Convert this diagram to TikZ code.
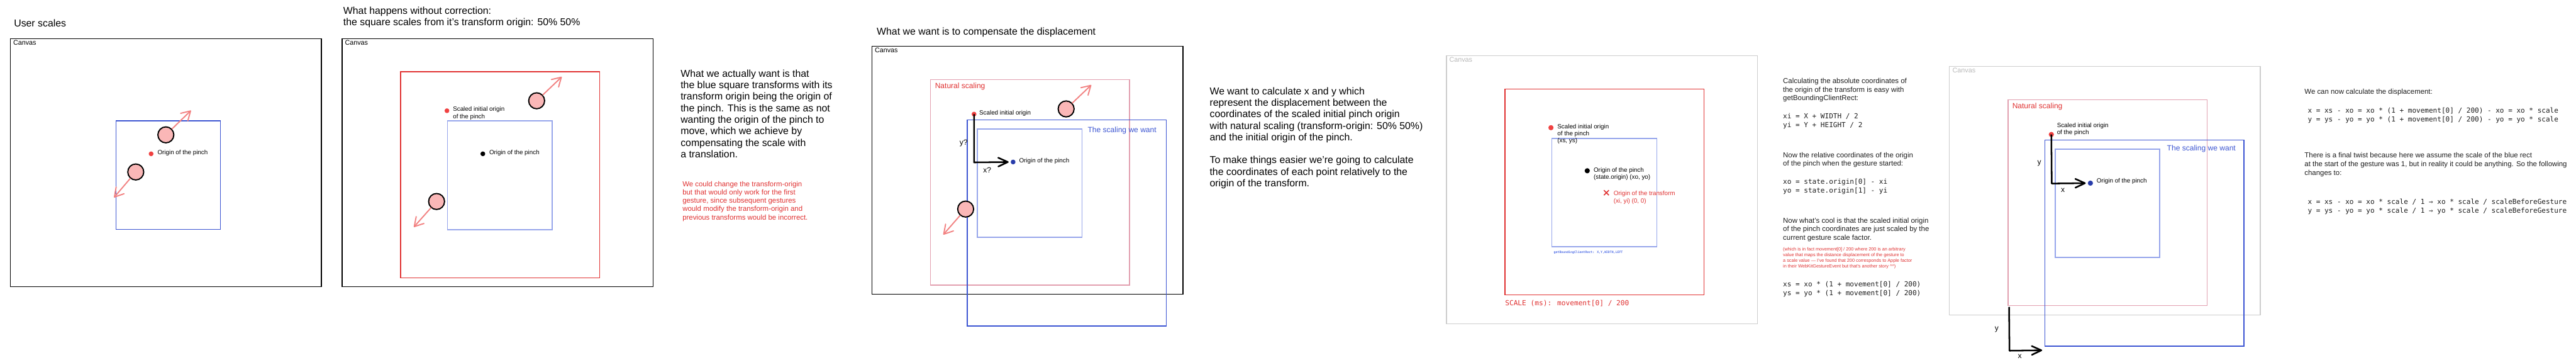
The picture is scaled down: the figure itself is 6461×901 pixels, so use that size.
\documentclass[tikz,border=0pt]{standalone}
\usepackage{fontspec}
\setmainfont{Liberation Sans}
\newfontfamily\handfont{Liberation Sans}
\newfontfamily\codefont{DejaVu Sans Mono}
\usetikzlibrary{arrows.meta,shapes.misc}
\definecolor{sqblue}{RGB}{60,85,210}
\definecolor{lightblue}{RGB}{150,165,235}
\definecolor{sqred}{RGB}{224,49,49}
\definecolor{sqpink}{RGB}{226,160,176}
\definecolor{fingerpink}{RGB}{250,183,183}
\definecolor{arrowpink}{RGB}{242,130,130}
\definecolor{dotred}{RGB}{240,65,65}
\definecolor{dotblue}{RGB}{40,60,170}
\definecolor{canvasgrey}{RGB}{205,205,205}
\definecolor{lblgrey}{RGB}{185,185,185}
\definecolor{textgrey}{RGB}{30,30,30}
\definecolor{codeblue}{RGB}{80,110,230}
\tikzset{
  canvasbox/.style={draw=black, line width=2pt},
  greybox/.style={draw=canvasgrey, line width=2pt},
  bluesq/.style={draw=sqblue, line width=2.5pt},
  lightsq/.style={draw=lightblue, line width=2.5pt},
  redsq/.style={draw=sqred, line width=2.5pt},
  pinksq/.style={draw=sqpink, line width=2.5pt},
  finger/.style={circle, draw=black, line width=3pt, fill=fingerpink, minimum size=40pt, inner sep=0pt},
  pdot/.style={circle, fill=#1, minimum size=12pt, inner sep=0pt},
  pinkarrow/.style={draw=arrowpink, line width=3pt, line cap=round, -{Straight Barb[length=22pt,width=26pt,round]}},
  axisarrow/.style={draw=black, line width=4pt, line join=round, -{Straight Barb[length=24pt,width=22pt,round]}},
  title/.style={anchor=north west, align=left, inner sep=0pt, font=\fontsize{25pt}{28.9pt}\selectfont},
  para/.style={anchor=north west, align=left, inner sep=0pt, font=\fontsize{18pt}{21.3pt}\selectfont, text=textgrey},
  code/.style={anchor=north west, align=left, inner sep=0pt, font=\codefont\fontsize{17.4pt}{22.4pt}\selectfont, text=textgrey},
  hand/.style={anchor=base west, inner sep=0pt, font=\handfont\fontsize{15.5pt}{18.5pt}\selectfont},
  handml/.style={hand, anchor=north west, align=left},
  canvaslbl/.style={anchor=base west, inner sep=0pt, font=\handfont\fontsize{17pt}{20pt}\selectfont},
  biglbl/.style={anchor=base west, inner sep=0pt, font=\handfont\fontsize{19pt}{22pt}\selectfont},
  axislbl/.style={inner sep=0pt, font=\fontsize{19pt}{22pt}\selectfont},
}
\begin{document}
\begin{tikzpicture}[x=1pt,y=-1pt]
\useasboundingbox (0,0) rectangle (6461,901);
\fill[white] (0,0) rectangle (6461,901);

% ---------------- Panel 1
\node[title] (t1) at (35,49) {User scales};
\draw[canvasbox] (26,97) rectangle (806,718);
\node[canvaslbl] (c1) at (33,112.6) {Canvas};
\draw[bluesq] (291,303) rectangle (553,575);
\node[pdot=dotred] (p1o) at (379,385.5) {};
\node[hand] (l1o) at (395,388) {Origin of the pinch};
\node[finger] (p1a) at (416,338) {};
\node[finger] (p1b) at (340.5,431) {};
\coordinate (p1at) at (479,277);
\coordinate (p1bt) at (286,495);
\draw[pinkarrow] (p1a) -- (p1at);
\draw[pinkarrow] (p1b) -- (p1bt);

% ---------------- Panel 2
\node[title] (t2) at (861,17) {What happens without correction:\\the square scales from it's transform origin: 50\% 50\%};
\draw[canvasbox] (858,97) rectangle (1638,719);
\node[canvaslbl] (c2) at (865,112.6) {Canvas};
\draw[redsq] (1005,180) rectangle (1504,696.5);
\draw[lightsq] (1122,303) rectangle (1385,576);
\node[pdot=dotred] (p2s) at (1121,277.5) {};
\node[handml] (l2s) at (1136,267.3) {Scaled initial origin\\of the pinch};
\node[pdot=black] (p2o) at (1211,385.5) {};
\node[hand] (l2o) at (1227,387.6) {Origin of the pinch};
\node[finger] (p2a) at (1346,252.6) {};
\node[finger] (p2b) at (1095,505) {};
\coordinate (p2at) at (1409,192.5);
\coordinate (p2bt) at (1038,569);
\draw[pinkarrow] (p2a) -- (p2at);
\draw[pinkarrow] (p2b) -- (p2bt);

% ---------------- Text 1
\node[title] (x1) at (1707,174.5) {What we actually want is that\\the blue square transforms with its\\transform origin being the origin of\\the pinch. This is the same as not\\wanting the origin of the pinch to\\move, which we achieve by\\compensating the scale with\\a translation.};
\node[anchor=north west, align=left, inner sep=0pt, font=\fontsize{18pt}{20.7pt}\selectfont, text=sqred] (x1r) at (1711.7,454.5) {We could change the transform-origin\\but that would only work for the first\\gesture, since subsequent gestures\\would modify the transform-origin and\\previous transforms would be incorrect.};

% ---------------- Panel 3
\node[title] (t3) at (2199,70) {What we want is to compensate the displacement};
\draw[canvasbox] (2187,116) rectangle (2967,738);
\node[canvaslbl] (c3) at (2194,131.8) {Canvas};
\draw[pinksq] (2334,199.5) rectangle (2833,715);
\node[biglbl, text=sqred] (n3) at (2345,221) {Natural scaling};
\draw[bluesq] (2426,300.5) rectangle (2925,817);
\draw[lightsq] (2451,323) rectangle (2714,595);
\node[biglbl, text=sqblue] (w3) at (2728,331.7) {The scaling we want};
\node[pdot=dotred] (p3s) at (2443,286) {};
\node[hand] (l3s) at (2456,288.6) {Scaled initial origin};
\node[pdot=dotblue] (p3o) at (2541,406) {};
\node[hand] (l3o) at (2556,407.6) {Origin of the pinch};
\coordinate (p3c) at (2443,407);
\draw[axisarrow, shorten >=5pt] (p3s.center) -- (p3c) -- (p3o.west);
\node[axislbl] (y3) at (2417,359) {y?};
\node[axislbl] (x3) at (2476,426) {x?};
\node[finger] (p3a) at (2674,273) {};
\node[finger] (p3b) at (2422,524) {};
\coordinate (p3at) at (2737,213);
\coordinate (p3bt) at (2366,588);
\draw[pinkarrow] (p3a) -- (p3at);
\draw[pinkarrow] (p3b) -- (p3bt);

% ---------------- Text 2
\node[title] (x2a) at (3034,218.5) {We want to calculate x and y which\\represent the displacement between the\\coordinates of the scaled initial pinch origin\\with natural scaling (transform-origin: 50\% 50\%)\\and the initial origin of the pinch.};
\node[title] (x2b) at (3034,391.7) {To make things easier we're going to calculate\\the coordinates of each point relatively to the\\origin of the transform.};

% ---------------- Panel 4
\draw[greybox] (3628,139.5) rectangle (4408,812);
\node[canvaslbl, text=lblgrey] (c4) at (3635,156) {Canvas};
\draw[redsq] (3775,223) rectangle (4274,739);
\draw[lightsq] (3892,347) rectangle (4155.5,618.6);
\node[pdot=dotred, minimum size=13pt] (p4s) at (3890,320) {};
\node[handml, font=\handfont\fontsize{15.5pt}{17.8pt}\selectfont] (l4s) at (3906,310.8) {Scaled initial origin\\of the pinch\\(xs, ys)};
\node[pdot=black, minimum size=13pt] (p4o) at (3981,428) {};
\node[handml] (l4o) at (3997,419.3) {Origin of the pinch\\(state.origin) (xo, yo)};
\node[cross out, draw=sqred, line width=2.5pt, minimum size=10pt, inner sep=0pt] (p4x) at (4029,483) {};
\node[handml, text=sqred] (l4x) at (4047,478.3) {Origin of the transform\\(xi, yi) (0, 0)};
\node[anchor=base west, inner sep=0pt, font=\codefont\bfseries\fontsize{7.7pt}{9pt}\selectfont, text=codeblue] (g4) at (3897,635.3) {getBoundingClientRect: X,Y,WIDTH,LEFT};
\node[anchor=base west, inner sep=0pt, font=\codefont\fontsize{17.6pt}{20pt}\selectfont, text=sqred] (s4) at (3775,765.5) {SCALE (ms): movement[0] / 200};

% ---------------- Text 3
\node[para] (x3a) at (4472,196.4) {Calculating the absolute coordinates of\\the origin of the transform is easy with\\getBoundingClientRect:};
\node[code] (x3b) at (4472,283.3) {xi = X + WIDTH / 2\\yi = Y + HEIGHT / 2};
\node[para] (x3c) at (4472,381.3) {Now the relative coordinates of the origin\\of the pinch when the gesture started:};
\node[code] (x3d) at (4472,448.3) {xo = state.origin[0] - xi\\yo = state.origin[1] - yi};
\node[para] (x3e) at (4472,545.3) {Now what's cool is that the scaled initial origin\\of the pinch coordinates are just scaled by the\\current gesture scale factor.};
\node[anchor=north west, align=left, inner sep=0pt, font=\fontsize{11.5pt}{14.2pt}\selectfont, text=sqred] (x3f) at (4472,620) {(which is in fact movement[0] / 200 where 200 is an arbitrary\\value that maps the distance displacement of the gesture to\\a scale value — I've found that 200 corresponds to Apple factor\\in their WebKitGestureEvent but that's another story \textasciicircum\textasciicircum)};
\node[code] (x3g) at (4472,704.3) {xs = xo * (1 + movement[0] / 200)\\ys = yo * (1 + movement[0] / 200)};

% ---------------- Panel 5
\draw[greybox] (4889,166) rectangle (5669,789);
\node[canvaslbl, text=lblgrey] (c5) at (4897,182) {Canvas};
\draw[pinksq] (5037,250) rectangle (5536,766);
\node[biglbl, text=sqred] (n5) at (5047,271.7) {Natural scaling};
\draw[bluesq] (5129,351) rectangle (5628,868);
\draw[lightsq] (5155,373.5) rectangle (5417,645);
\node[biglbl, text=sqblue] (w5) at (5435,377.7) {The scaling we want};
\node[pdot=dotred, minimum size=13pt] (p5s) at (5145,337) {};
\node[handml] (l5s) at (5159,307.3) {Scaled initial origin\\of the pinch};
\node[pdot=dotblue, minimum size=13pt] (p5o) at (5243,459) {};
\node[hand] (l5o) at (5258.5,458.6) {Origin of the pinch};
\coordinate (p5c) at (5146,460);
\draw[axisarrow, shorten >=5pt] (p5s.center) -- (p5c) -- (p5o.west);
\node[axislbl] (y5) at (5115,410) {y};
\node[axislbl] (x5) at (5174,477) {x};
\coordinate (b5a) at (5039,769);
\coordinate (b5b) at (5040,879);
\coordinate (b5c) at (5122,878);
\draw[axisarrow] (b5a) -- (b5b) -- (b5c);
\node[axislbl] (y5b) at (5008,826) {y};
\node[axislbl] (x5b) at (5066,893) {x};

% ---------------- Text 4
\node[para] (x4a) at (5780,222) {We can now calculate the displacement:};
\node[code, font=\codefont\fontsize{17.4pt}{21.9pt}\selectfont] (x4b) at (5788,269.6) {x = xs - xo = xo * (1 + movement[0] / 200) - xo = xo * scale\\y = ys - yo = yo * (1 + movement[0] / 200) - yo = yo * scale};
\node[para, font=\fontsize{18pt}{21.5pt}\selectfont] (x4c) at (5780,382.3) {There is a final twist because here we assume the scale of the blue rect\\at the start of the gesture was 1, but in reality it could be anything. So the following\\changes to:};
\node[code, font=\codefont\fontsize{17.4pt}{21pt}\selectfont] (x4d) at (5788,499) {x = xs - xo = xo * scale / 1 ⇒ xo * scale / scaleBeforeGesture\\y = ys - yo = yo * scale / 1 ⇒ yo * scale / scaleBeforeGesture};
\end{tikzpicture}
\end{document}
